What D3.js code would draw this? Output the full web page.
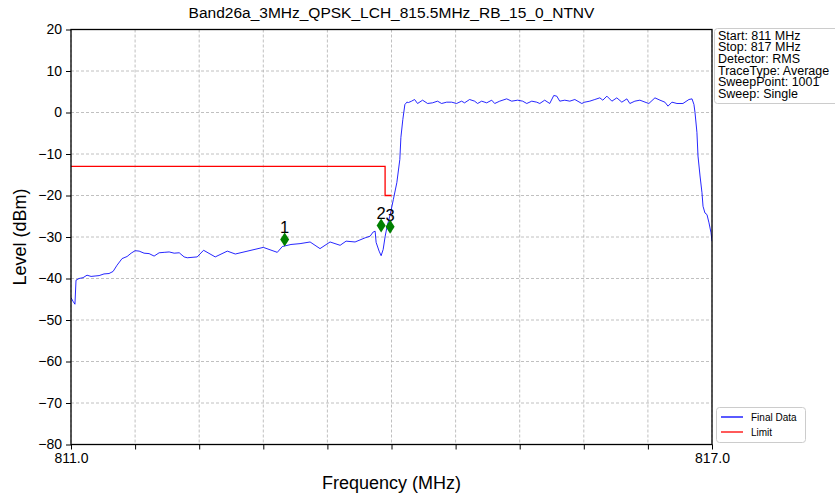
<!DOCTYPE html>
<html><head><meta charset="utf-8">
<script src="https://cdn.jsdelivr.net/npm/d3@7"></script>
<style>body{margin:0;background:#fff;}svg{display:block;font-family:"Liberation Sans",Arial,sans-serif;}</style>
</head><body>
<svg id="chart" width="835" height="498"></svg>
<script>
const title = "Band26a_3MHz_QPSK_LCH_815.5MHz_RB_15_0_NTNV";
const xLabel = "Frequency (MHz)";
const yLabel = "Level (dBm)";
const yTicks = [20,10,0,-10,-20,-30,-40,-50,-60,-70,-80];
const xTicks = [811.0,811.6,812.2,812.8,813.4,814.0,814.6,815.2,815.8,816.4,817.0];
const xTickLabels = ["811.0","","","","","","","","","","817.0"];
const infoLines = ["Start: 811 MHz","Stop: 817 MHz","Detector: RMS","TraceType: Average","SweepPoint: 1001","Sweep: Single"];
const legendNames = ["Final Data","Limit"];

const traceFreq = [811.000,811.019,811.037,811.047,811.075,811.113,811.150,811.188,811.225,811.263,811.309,811.356,811.394,811.431,811.478,811.525,811.563,811.600,811.638,811.684,811.731,811.778,811.825,811.872,811.919,811.966,
  812.013,812.059,812.088,812.181,812.241,812.350,812.463,812.538,812.800,812.931,812.978,813.059,813.144,813.238,813.331,813.425,813.519,813.575,813.659,813.753,813.800,813.828,813.847,813.856,813.884,813.903,813.922,813.941,813.959,813.988,814.017,814.050,814.078,814.088,814.106,814.125,814.144,814.159,
  814.188,814.216,814.244,814.291,814.338,814.384,814.431,814.469,814.516,814.563,814.609,814.656,814.684,814.731,814.778,814.806,814.844,814.891,814.938,814.966,815.013,815.078,815.125,815.181,815.228,815.266,815.313,815.359,815.388,815.434,815.481,815.519,815.547,815.575,815.622,815.669,815.716,815.781,815.809,815.856,815.903,815.950,815.978,816.016,816.063,816.109,816.156,816.203,816.231,816.278,816.325,816.391,816.409,816.466,816.513,816.559,816.588,816.625,816.672,816.728,816.784,816.813,816.831,
  816.841,816.859,816.869,816.888,816.906,816.916,816.934,816.953,816.972,816.991,817.000];
const traceLevel = [-44.6,-45.5,-46.2,-40.4,-40.0,-39.8,-39.2,-39.5,-39.4,-39.3,-38.9,-38.8,-38.3,-36.8,-35.2,-34.7,-33.9,-33.3,-33.4,-33.9,-34.0,-34.6,-33.8,-33.7,-33.6,-33.9,
  -33.8,-34.8,-35.0,-34.8,-33.2,-34.8,-33.4,-34.1,-32.5,-33.7,-32.3,-31.8,-31.6,-31.2,-32.8,-31.2,-32.0,-31.0,-31.2,-30.2,-29.8,-28.8,-28.6,-31.3,-33.4,-34.5,-33.0,-29.8,-27.4,-24.6,-21.0,-16.9,-11.3,-6.0,-1.7,1.9,2.5,2.4,
  2.73,3.13,2.17,2.97,2.17,2.33,2.73,2.17,2.49,2.49,2.17,2.73,2.33,3.13,2.73,2.17,2.73,2.33,2.97,2.17,2.73,3.29,2.73,2.97,2.73,2.17,2.73,2.49,2.17,2.97,2.17,4.10,3.94,2.73,2.97,2.73,3.13,2.17,2.49,2.73,3.13,3.53,2.97,3.94,2.73,3.53,2.49,3.29,2.17,2.73,2.97,2.33,2.17,3.53,2.97,2.49,1.53,2.49,2.17,2.17,3.13,3.29,1.93,
  0.0,-4.8,-10.5,-15.3,-19.3,-22.6,-24.2,-24.6,-26.6,-29.0,-31.0];

const limitFreq = [811.0,813.94,813.94,814.0];
const limitLevel = [-13,-13,-20,-20];

const markerNames = ["1","2","3"];
const markerFreq = [813.0,813.903,813.987];
const markerLevel = [-30.6,-27.2,-27.5];

const svg = d3.select("#chart");
const L=71, R=712, T=29.5, B=444.5;
const x = d3.scaleLinear().domain([811,817]).range([L,R]);
const y = d3.scaleLinear().domain([-80,20]).range([B,T]);

// grid
const grid = svg.append("g");
grid.selectAll(".gx").data(xTicks).join("line")
  .attr("x1",d=>x(d)).attr("x2",d=>x(d)).attr("y1",T).attr("y2",B)
  .attr("stroke","#b0b0b0").attr("stroke-width",0.8).attr("stroke-dasharray","3,2");
grid.selectAll(".gy").data(yTicks).join("line")
  .attr("x1",L).attr("x2",R).attr("y1",d=>y(d)).attr("y2",d=>y(d))
  .attr("stroke","#b0b0b0").attr("stroke-width",0.8).attr("stroke-dasharray","3,2");

// clip
svg.append("clipPath").attr("id","clip").append("rect").attr("x",L).attr("y",T).attr("width",R-L).attr("height",B-T);

const line = d3.line().x(d=>x(d[0])).y(d=>y(d[1]));
svg.append("path").attr("clip-path","url(#clip)")
  .datum(traceFreq.map((f,i)=>[f,traceLevel[i]]))
  .attr("d",line).attr("fill","none").attr("stroke","#0000ff").attr("stroke-width",1).attr("stroke-opacity",0.85);
svg.append("path")
  .datum(limitFreq.map((f,i)=>[f,limitLevel[i]]))
  .attr("d",line).attr("fill","none").attr("stroke","#ff0000").attr("stroke-width",1.3);

// markers
const mg = svg.append("g");
markerFreq.forEach((f,i)=>{
  const cx=x(f), cy=y(markerLevel[i]);
  mg.append("text").attr("x",cx).attr("y",cy-6).attr("text-anchor","middle")
    .attr("font-size",16.5).attr("fill","#000").text(markerNames[i]);
});
markerFreq.forEach((f,i)=>{
  const cx=x(f), cy=y(markerLevel[i]);
  mg.append("path").attr("d",`M${cx},${cy-7}L${cx+4.5},${cy}L${cx},${cy+7}L${cx-4.5},${cy}Z`).attr("fill","#008000");
});

// frame
svg.append("rect").attr("x",L).attr("y",T).attr("width",R-L).attr("height",B-T)
  .attr("fill","none").attr("stroke","#000").attr("stroke-width",1.3);

// axes
const yAxis = d3.axisLeft(y).tickValues(yTicks).tickSize(5).tickPadding(4);
const gy = svg.append("g").attr("transform",`translate(${L},0)`).call(yAxis);
gy.select(".domain").remove();
gy.selectAll("text").attr("font-size",14).attr("fill","#000").attr("font-family","Liberation Sans, Arial, sans-serif");
const xAxis = d3.axisBottom(x).tickValues(xTicks).tickSize(5).tickPadding(4).tickFormat((d,i)=>xTickLabels[i]);
const gx = svg.append("g").attr("transform",`translate(0,${B})`).call(xAxis);
gx.select(".domain").remove();
gx.selectAll("text").attr("font-size",14).attr("fill","#000").attr("font-family","Liberation Sans, Arial, sans-serif");

// labels
svg.append("text").attr("x",(L+R)/2).attr("y",18).attr("text-anchor","middle").attr("font-size",15.5).text(title);
svg.append("text").attr("x",(L+R)/2).attr("y",489).attr("text-anchor","middle").attr("font-size",18).text(xLabel);
svg.append("text").attr("transform",`translate(26,${(T+B)/2}) rotate(-90)`).attr("text-anchor","middle").attr("font-size",18).text(yLabel);

// info box
svg.append("rect").attr("x",714.5).attr("y",28.5).attr("width",140).attr("height",75).attr("rx",3)
  .attr("fill","#fff").attr("stroke","#cccccc");
svg.append("g").selectAll("text").data(infoLines).join("text")
  .attr("x",718).attr("y",(d,i)=>39.5+i*11.7).attr("font-size",12.5).text(d=>d);

// legend
const lg = svg.append("g");
lg.append("rect").attr("x",716.5).attr("y",407.5).attr("width",89).attr("height",35).attr("rx",3)
  .attr("fill","#fff").attr("stroke","#cccccc");
const lc = ["#0000ff","#ff0000"];
legendNames.forEach((n,i)=>{
  const yy = 417+i*15;
  lg.append("line").attr("x1",721).attr("x2",743).attr("y1",yy).attr("y2",yy).attr("stroke",lc[i]).attr("stroke-width",1.3);
  lg.append("text").attr("x",751).attr("y",yy+3.5).attr("font-size",10).text(n);
});
</script>
</body></html>
